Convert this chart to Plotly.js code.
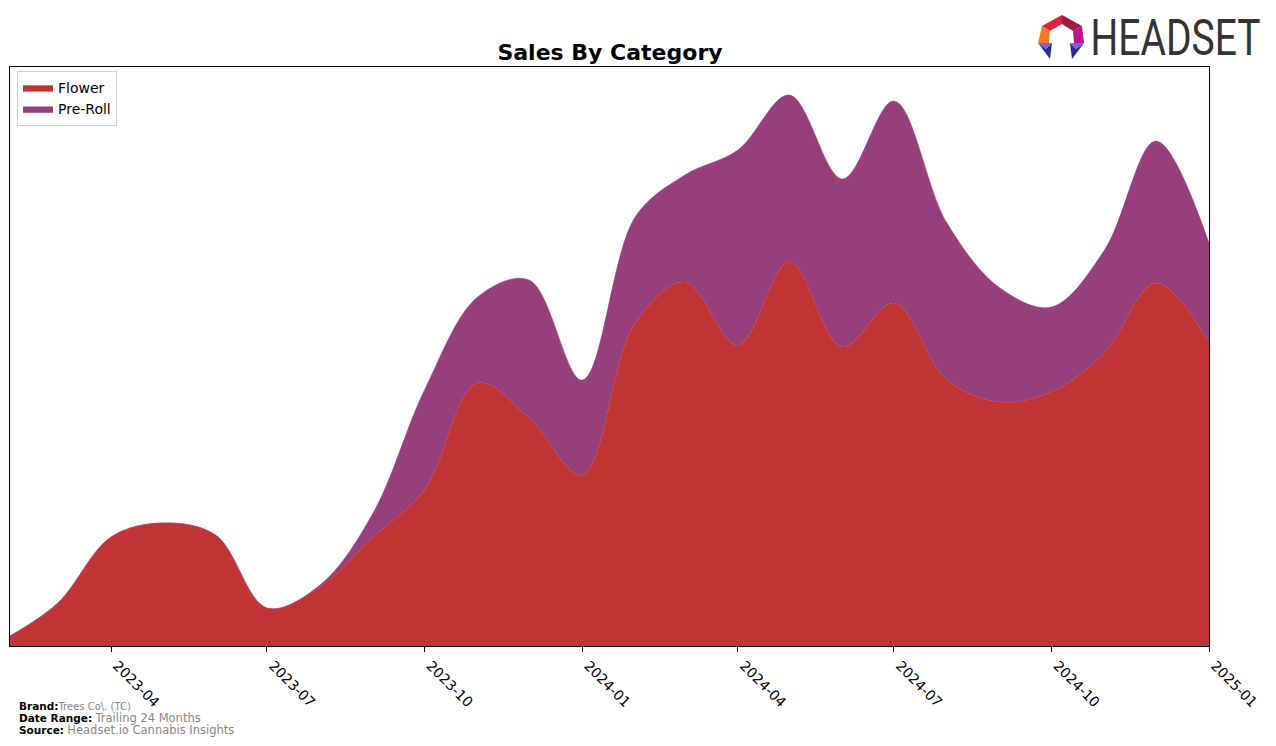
<!DOCTYPE html>
<html><head><meta charset="utf-8">
<script src="https://cdn.plot.ly/plotly-3.0.1.min.js"></script>
<style>html,body{margin:0;padding:0;background:#fff}#chart{width:1276px;height:746px}</style>
</head><body><div id="chart"></div>
<script>
const months = ["2023-02-01","2023-03-01","2023-04-01","2023-05-01","2023-06-01","2023-07-01","2023-08-01","2023-09-01","2023-10-01","2023-11-01","2023-12-01","2024-01-01","2024-02-01","2024-03-01","2024-04-01","2024-05-01","2024-06-01","2024-07-01","2024-08-01","2024-09-01","2024-10-01","2024-11-01","2024-12-01","2025-01-01"];
const flower = [10,43,109,123,111,38,59,109,156,263,228,171,323,364,301,384,299,343,266,244,254,293,363,303];
const preRoll = [0,0,0,0,0,0,2,24,100,86,138,95,106,107,195,167,168,202,157,114,85,103,142,100];
const tickVals = ["2023-04-01","2023-07-01","2023-10-01","2024-01-01","2024-04-01","2024-07-01","2024-10-01","2025-01-01"];
const tickText = ["2023-04","2023-07","2023-10","2024-01","2024-04","2024-07","2024-10","2025-01"];

const traces = [
  {x: months, y: flower, name: "Flower", type: "scatter", mode: "lines", stackgroup: "one",
   line: {shape: "spline", smoothing: 1, width: 0.5, color: "#C03433"}, fillcolor: "#C03433"},
  {x: months, y: preRoll, name: "Pre-Roll", type: "scatter", mode: "lines", stackgroup: "one",
   line: {shape: "spline", smoothing: 1, width: 0.5, color: "#963F7A"}, fillcolor: "#963F7A"}
];

const logoSvg = '<svg xmlns="http://www.w3.org/2000/svg" width="46" height="44" viewBox="0 0 46 44">' +
  '<polygon points="24,0 4,11 12,16 24,9" fill="#d8223a"/>' +
  '<polygon points="24,0 44,11 35,16 24,9" fill="#a8183e"/>' +
  '<polygon points="4,11 0,28 11,28 12,16" fill="#f07a22"/>' +
  '<polygon points="44,11 46,28 36,28 35,16" fill="#b8168a"/>' +
  '<polygon points="0,28 14,28 8,34" fill="#7466e0"/>' +
  '<polygon points="0,28 8,34 14,28 12,44" fill="#2b2d8c"/>' +
  '<polygon points="32,28 46,28 38,34" fill="#7466e0"/>' +
  '<polygon points="32,28 38,34 46,28 34,44" fill="#2b2d8c"/>' +
  '</svg>';

const px = v => (v - 10) / 1199;
const py = v => (646 - v) / 579;

const layout = {
  width: 1276, height: 746,
  margin: {l: 10, r: 67, t: 67, b: 100},
  paper_bgcolor: "#fff", plot_bgcolor: "#fff",
  font: {family: "DejaVu Sans", color: "#000"},
  title: {text: "<b>Sales By Category</b>", x: 610/1276, xanchor: "center", y: 1 - 52/746, yanchor: "middle",
          font: {family: "DejaVu Sans", size: 22, color: "#000"}},
  showlegend: true,
  legend: {x: px(17), y: py(71), xanchor: "left", yanchor: "top", bgcolor: "#fff",
           bordercolor: "#d0d0d0", borderwidth: 1, font: {family: "DejaVu Sans", size: 14, color: "#000"},
           traceorder: "normal", tracegroupgap: 0, itemwidth: 30},
  xaxis: {type: "date", range: ["2023-02-01", "2025-01-01"], tickvals: tickVals, ticktext: tickText,
          tickangle: 45, ticks: "outside", ticklen: 5, tickcolor: "#000", showgrid: false, zeroline: false,
          showline: true, linecolor: "#000", linewidth: 1, mirror: true, ticklabelshift: 6,
          tickfont: {family: "DejaVu Sans", size: 14, color: "#000"}},
  yaxis: {range: [0, 579], showticklabels: false, ticks: "", showgrid: false, zeroline: false,
          showline: true, linecolor: "#000", linewidth: 1, mirror: true, fixedrange: true},
  images: [{source: "data:image/svg+xml;base64," + btoa(logoSvg), xref: "paper", yref: "paper",
            x: px(1038), y: py(15), sizex: 46/1199, sizey: 44/579, xanchor: "left", yanchor: "top",
            sizing: "stretch", layer: "above"}],
  annotations: [
    {text: "HEADSET", xref: "paper", yref: "paper", x: px(1175), y: py(38),
     xanchor: "center", yanchor: "middle", showarrow: false,
     font: {family: "Roboto", size: 42, color: "#333"}},
    {text: "<b>Brand:</b><span style='color:#888;font-size:10px'>Trees Co\\. (TC)</span>", xref: "paper", yref: "paper",
     x: px(17), y: py(705.5), xanchor: "left", yanchor: "middle", showarrow: false,
     font: {family: "DejaVu Sans", size: 10.5, color: "#000"}},
    {text: "<b>Date Range:</b> <span style='color:#888;font-size:11.5px'>Trailing 24 Months</span>", xref: "paper", yref: "paper",
     x: px(17), y: py(717.5), xanchor: "left", yanchor: "middle", showarrow: false,
     font: {family: "DejaVu Sans", size: 10.5, color: "#000"}},
    {text: "<b>Source:</b> <span style='color:#888;font-size:11.5px'>Headset.io Cannabis Insights</span>", xref: "paper", yref: "paper",
     x: px(17), y: py(729.5), xanchor: "left", yanchor: "middle", showarrow: false,
     font: {family: "DejaVu Sans", size: 10.5, color: "#000"}}
  ]
};
Plotly.newPlot("chart", traces, layout, {displayModeBar: false, staticPlot: true}).then(gd => {
  gd.querySelectorAll("text.annotation-text").forEach(t => {
    if (t.textContent === "HEADSET") {
      const b = t.getBBox();
      const cx = b.x + b.width / 2, cy = b.y + b.height / 2;
      t.setAttribute("textLength", "170");
      t.setAttribute("lengthAdjust", "spacingAndGlyphs");
      t.setAttribute("transform", `translate(${cx},${cy}) scale(1,1.2) translate(${-cx},${-cy})`);
    }
  });
});
</script></body></html>
